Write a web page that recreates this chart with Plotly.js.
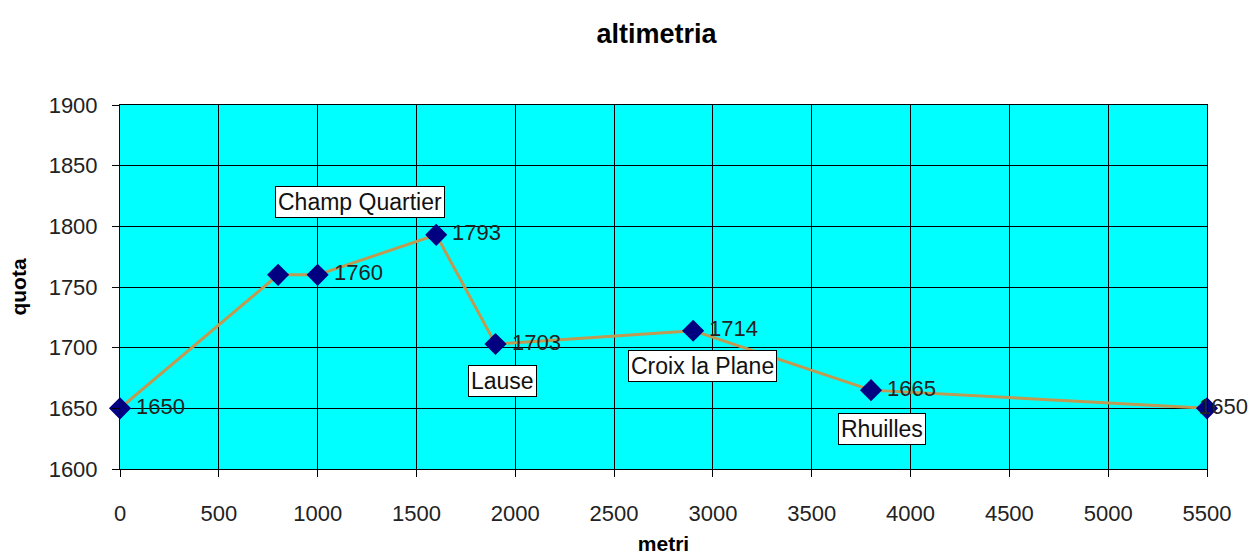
<!DOCTYPE html>
<html><head><meta charset="utf-8">
<script src="https://cdn.plot.ly/plotly-3.0.1.min.js"></script>
<style>html,body{margin:0;padding:0;background:#fff}</style>
</head><body>
<div id="chart" style="width:1250px;height:555px"></div>
<script>
const metri = [0, 800, 1000, 1600, 1900, 2900, 3800, 5500];
const quota = [1650, 1760, 1760, 1793, 1703, 1714, 1665, 1650];
const pointLabels = ["1650", "", "1760", "1793", "1703", "1714", "1665", "1650"];
const placeNames = ["Champ Quartier", "Lause", "Croix la Plane", "Rhuilles"];
const placeX = [1214, 1933, 2945, 3856];
const placeY = [1820, 1672.5, 1685, 1633];

const fontFam = "Liberation Sans, Arial, sans-serif";

const trace = {
  x: metri, y: quota, type: "scatter", mode: "lines+markers",
  line: {color: "#BF9A52", width: 3},
  marker: {symbol: "diamond", size: 17, color: "#000080"},
  cliponaxis: false, hoverinfo: "x+y"
};

const valueAnn = [];
metri.forEach((x, i) => {
  if (!pointLabels[i]) return;
  const last = i === metri.length - 1;
  valueAnn.push({
    x: x, y: quota[i], xref: "x", yref: "y", text: pointLabels[i], showarrow: false,
    xanchor: "left", yanchor: "middle", xshift: last ? -10 : 14, yshift: 2,
    font: {family: fontFam, size: 22, color: "#222"}
  });
});

const placeAnn = placeNames.map((t, i) => ({
  x: placeX[i], y: placeY[i], xref: "x", yref: "y", text: t, showarrow: false,
  font: {family: fontFam, size: 23, color: "#111"},
  bgcolor: "#fff", bordercolor: "#000", borderwidth: 1, borderpad: 2
}));

const layout = {
  width: 1250, height: 555,
  margin: {l: 120, r: 43, t: 105, b: 86},
  paper_bgcolor: "#fff", plot_bgcolor: "#00FFFF",
  showlegend: false,
  title: {text: "<b>altimetria</b>", x: 0.4936, xref: "paper", xanchor: "center", y: 0.94, yanchor: "middle",
          font: {family: fontFam, size: 27, color: "#000"}},
  xaxis: {range: [0, 5500], dtick: 500, tick0: 0, showgrid: true, gridcolor: "#000", gridwidth: 1,
          showline: true, linecolor: "#000", linewidth: 1, mirror: true,
          ticks: "outside", ticklen: 7, tickcolor: "#000", zeroline: false,
          ticklabelstandoff: 18,
          tickfont: {family: fontFam, size: 22, color: "#222"},
          title: {text: "<b>metri</b>", font: {family: fontFam, size: 21, color: "#000"}, standoff: 16}},
  yaxis: {range: [1600, 1900], dtick: 50, tick0: 1600, showgrid: true, gridcolor: "#000", gridwidth: 1,
          showline: true, linecolor: "#000", linewidth: 1, mirror: true,
          ticks: "outside", ticklen: 7, tickcolor: "#000", zeroline: false,
          ticklabelstandoff: 10,
          tickfont: {family: fontFam, size: 22, color: "#222"},
          title: {text: "<b>quota</b>", font: {family: fontFam, size: 21, color: "#000"}, standoff: 16}},
  annotations: valueAnn.concat(placeAnn)
};

Plotly.newPlot("chart", [trace], layout, {displayModeBar: false, staticPlot: true});
</script>
</body></html>
